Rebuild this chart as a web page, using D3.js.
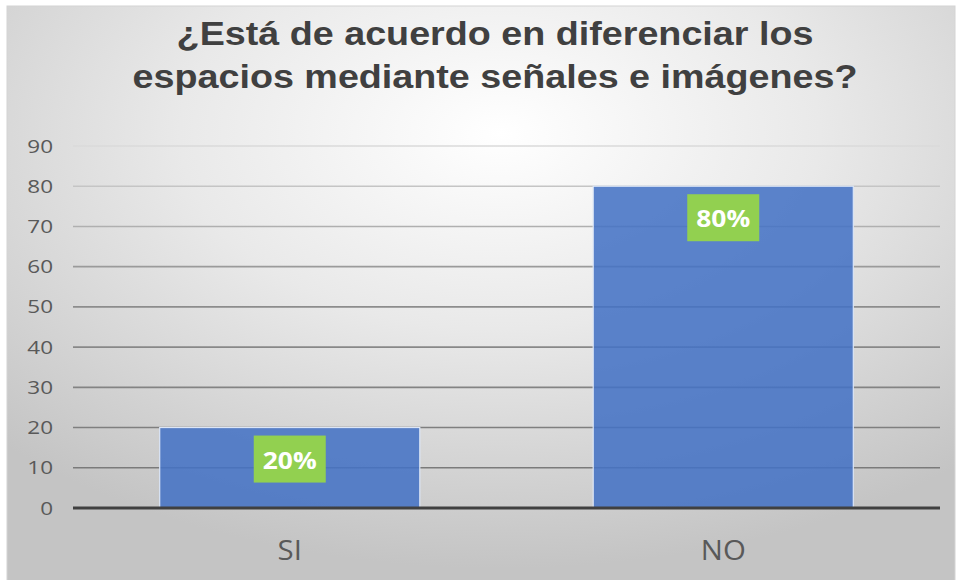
<!DOCTYPE html>
<html>
<head>
<meta charset="utf-8">
<script src="https://cdn.jsdelivr.net/npm/d3@7"></script>
<style>
    body { margin: 0; background: #fff; }
    svg { display: block; }
</style>
</head>
<body>
<div id="chart"></div>
<script>
// data
const titleLines = ["¿Está de acuerdo en diferenciar los", "espacios mediante señales e imágenes?"];
const categories = ["SI", "NO"];
const values = [20, 80];
const labels = ["20%", "80%"];
const yTicks = [0, 10, 20, 30, 40, 50, 60, 70, 80, 90];

const width = 961;
const height = 580;

const svg = d3.select("#chart")
    .append("svg")
    .attr("width", width)
    .attr("height", height);

const defs = svg.append("defs");

// background gradient (white at top centre, grey at the edges)
const bg = defs.append("radialGradient")
    .attr("id", "bg")
    .attr("cx", "52%").attr("cy", "22%")
    .attr("r", "75%");
bg.append("stop").attr("offset", "0%").attr("stop-color", "#ffffff");
bg.append("stop").attr("offset", "45%").attr("stop-color", "#e9e9e9");
bg.append("stop").attr("offset", "100%").attr("stop-color", "#c4c4c4");

svg.append("rect")
    .attr("x", 7).attr("y", 6)
    .attr("width", 948).attr("height", 580)
    .attr("fill", "url(#bg)")
    .attr("stroke", "#d4d4d4");

// scales
const x = d3.scaleBand()
    .domain(categories)
    .range([73, 940])
    .paddingInner(0.4)
    .paddingOuter(0.2);

const y = d3.scaleLinear()
    .domain([0, 90])
    .range([508, 146]);

// gridlines: lighter at the top, darker lower down
const gridGrad = defs.append("linearGradient")
    .attr("id", "grid")
    .attr("gradientUnits", "userSpaceOnUse")
    .attr("x1", 0).attr("y1", y(90))
    .attr("x2", 0).attr("y2", y(0));
gridGrad.append("stop").attr("offset", "0%").attr("stop-color", "#dadada");
gridGrad.append("stop").attr("offset", "40%").attr("stop-color", "#8e8e8e");
gridGrad.append("stop").attr("offset", "100%").attr("stop-color", "#767676");

svg.append("g")
    .selectAll("line")
    .data(yTicks.filter(d => d > 0))
    .enter()
    .append("line")
    .attr("x1", 73)
    .attr("x2", 940)
    .attr("y1", d => y(d))
    .attr("y2", d => y(d))
    .attr("stroke", "url(#grid)")
    .attr("stroke-width", 1.6);

// y tick labels
svg.append("g")
    .selectAll("text")
    .data(yTicks)
    .enter()
    .append("text")
    .attr("transform", d => "translate(53," + (y(d) + 6.5) + ") scale(1.25,1)")
    .attr("text-anchor", "end")
    .attr("font-family", "'Open Sans', sans-serif")
    .attr("font-size", 18)
    .attr("fill", "#595959")
    .text(d => d);

// bars
svg.append("g")
    .selectAll("rect")
    .data(values)
    .enter()
    .append("rect")
    .attr("x", (d, i) => x(categories[i]))
    .attr("y", d => y(d))
    .attr("width", x.bandwidth())
    .attr("height", d => y(0) - y(d))
    .attr("fill", "#4472c4")
    .attr("fill-opacity", 0.87)
    .attr("stroke", "#dce6f7")
    .attr("stroke-width", 1.2);

// baseline
svg.append("line")
    .attr("x1", 73)
    .attr("x2", 940)
    .attr("y1", y(0))
    .attr("y2", y(0))
    .attr("stroke", "#404040")
    .attr("stroke-width", 3);

// data labels in green boxes
const lab = svg.append("g")
    .selectAll("g")
    .data(values)
    .enter()
    .append("g")
    .attr("transform", (d, i) => "translate(" + (x(categories[i]) + x.bandwidth() / 2) + "," + (y(d) + 8) + ")");

lab.append("rect")
    .attr("x", -36)
    .attr("y", 0)
    .attr("width", 72)
    .attr("height", 47)
    .attr("fill", "#92d050");

lab.append("text")
    .attr("transform", "translate(0,33) scale(1.1,1)")
    .attr("text-anchor", "middle")
    .attr("font-family", "'Open Sans', sans-serif")
    .attr("font-weight", "bold")
    .attr("font-size", 24)
    .attr("fill", "#ffffff")
    .text((d, i) => labels[i]);

// category labels
svg.append("g")
    .selectAll("text")
    .data(categories)
    .enter()
    .append("text")
    .attr("transform", d => "translate(" + (x(d) + x.bandwidth() / 2) + ",560) scale(1.05,1)")
    .attr("text-anchor", "middle")
    .attr("font-family", "'Open Sans', sans-serif")
    .attr("font-size", 28)
    .attr("fill", "#595959")
    .text(d => d);

// title
svg.append("g")
    .selectAll("text")
    .data(titleLines)
    .enter()
    .append("text")
    .attr("transform", (d, i) => "translate(495," + (45 + i * 43) + ") scale(1.16,1)")
    .attr("text-anchor", "middle")
    .attr("font-family", "'Liberation Sans', Arial, sans-serif")
    .attr("font-weight", "bold")
    .attr("font-size", 32.5)
    .attr("fill", "#404040")
    .text(d => d);
</script>
</body>
</html>
